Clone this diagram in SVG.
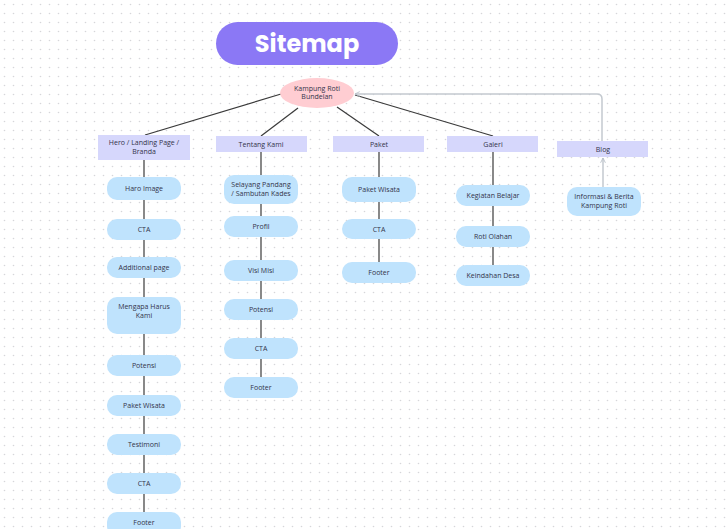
<svg xmlns="http://www.w3.org/2000/svg" width="727" height="529" viewBox="0 0 727 529">
<defs>
<pattern id="dots" x="0" y="0" width="9" height="9" patternUnits="userSpaceOnUse">
<circle cx="4.5" cy="4.5" r="0.8" fill="#d6d6d9"/>
</pattern>
<marker id="arr" viewBox="0 0 10 10" refX="9" refY="5" markerWidth="6" markerHeight="6" orient="auto-start-reverse" markerUnits="userSpaceOnUse">
<path d="M1,1 L9,5 L1,9" fill="none" stroke="#b8c0c8" stroke-width="1.5"/>
</marker>
<style>
.cat{fill:#d6d7fc}
.leaf{fill:#bfe3fd}
.t{font-family:"Open Sans","Liberation Sans",sans-serif;font-size:7px;fill:#33334a;text-anchor:middle}
.ln{stroke:#3a3a3a;stroke-width:1.2;fill:none}
.gl{stroke:#c3c9cf;stroke-width:1.5;fill:none}
</style>
</defs>
<rect width="727" height="529" fill="#ffffff"/>
<rect width="727" height="529" fill="url(#dots)"/>

<g id="connectors">
<line class="ln" x1="281" y1="94" x2="145" y2="135"/>
<line class="ln" x1="298" y1="108" x2="261" y2="136"/>
<line class="ln" x1="337" y1="107" x2="379" y2="136"/>
<line class="ln" x1="355" y1="95" x2="493" y2="136"/>
<line class="ln" x1="144" y1="160" x2="144" y2="529"/>
<line class="ln" x1="261" y1="152" x2="261" y2="390"/>
<line class="ln" x1="379" y1="152" x2="379" y2="272"/>
<line class="ln" x1="493" y1="152" x2="493" y2="276"/>
<path class="gl" d="M602,141 L602,99 Q602,94 597,94 L355,94" marker-end="url(#arr)"/>
<line class="gl" x1="603" y1="187" x2="603" y2="158" marker-end="url(#arr)"/>
</g>

<g id="title">
<rect x="216" y="22" width="182" height="43" rx="21.5" fill="#8b78f5"/>
<text x="307" y="52" font-family="Poppins,'Open Sans','Liberation Sans',sans-serif" font-size="24" font-weight="bold" fill="#ffffff" text-anchor="middle">Sitemap</text>
</g>

<g id="root">
<ellipse cx="317" cy="93" rx="37" ry="15" fill="#ffcdd2"/>
<text class="t" x="317" y="91">Kampung Roti</text>
<text class="t" x="317" y="99">Bundelan</text>
</g>

<g id="cat-hero"><rect class="cat" x="98" y="135" width="92" height="25"/><text class="t" x="144" y="145">Hero / Landing Page /</text><text class="t" x="144" y="154">Branda</text></g>
<g id="cat-tentang"><rect class="cat" x="216" y="136" width="91" height="16"/><text class="t" x="261" y="147">Tentang Kami</text></g>
<g id="cat-paket"><rect class="cat" x="333" y="136" width="91" height="16"/><text class="t" x="379" y="147">Paket</text></g>
<g id="cat-galeri"><rect class="cat" x="447" y="136" width="91" height="16"/><text class="t" x="493" y="147">Galeri</text></g>
<g id="cat-blog"><rect class="cat" x="557" y="141" width="91" height="16"/><text class="t" x="603" y="152">Blog</text></g>

<g id="hero-1"><rect class="leaf" x="107" y="177" width="74" height="23" rx="10"/><text class="t" x="144" y="191">Haro Image</text></g>
<g id="hero-2"><rect class="leaf" x="107" y="219" width="74" height="21" rx="10"/><text class="t" x="144" y="232">CTA</text></g>
<g id="hero-3"><rect class="leaf" x="107" y="257" width="74" height="21" rx="10"/><text class="t" x="144" y="270">Additional page</text></g>
<g id="hero-4"><rect class="leaf" x="107" y="297" width="74" height="37" rx="10"/><text class="t" x="144" y="309">Mengapa Harus</text><text class="t" x="144" y="318">Kami</text></g>
<g id="hero-5"><rect class="leaf" x="107" y="355" width="74" height="21" rx="10"/><text class="t" x="144" y="368">Potensi</text></g>
<g id="hero-6"><rect class="leaf" x="107" y="395" width="74" height="21" rx="10"/><text class="t" x="144" y="408">Paket Wisata</text></g>
<g id="hero-7"><rect class="leaf" x="107" y="434" width="74" height="21" rx="10"/><text class="t" x="144" y="447">Testimoni</text></g>
<g id="hero-8"><rect class="leaf" x="107" y="473" width="74" height="21" rx="10"/><text class="t" x="144" y="486">CTA</text></g>
<g id="hero-9"><rect class="leaf" x="107" y="512" width="74" height="24" rx="10"/><text class="t" x="144" y="525">Footer</text></g>

<g id="tentang-1"><rect class="leaf" x="224" y="175" width="74" height="29" rx="10"/><text class="t" x="261" y="187">Selayang Pandang</text><text class="t" x="261" y="196">/ Sambutan Kades</text></g>
<g id="tentang-2"><rect class="leaf" x="224" y="216" width="74" height="21" rx="10"/><text class="t" x="261" y="229">Profil</text></g>
<g id="tentang-3"><rect class="leaf" x="224" y="260" width="74" height="21" rx="10"/><text class="t" x="261" y="273">Visi Misi</text></g>
<g id="tentang-4"><rect class="leaf" x="224" y="299" width="74" height="21" rx="10"/><text class="t" x="261" y="312">Potensi</text></g>
<g id="tentang-5"><rect class="leaf" x="224" y="338" width="74" height="21" rx="10"/><text class="t" x="261" y="351">CTA</text></g>
<g id="tentang-6"><rect class="leaf" x="224" y="377" width="74" height="21" rx="10"/><text class="t" x="261" y="390">Footer</text></g>

<g id="paket-1"><rect class="leaf" x="342" y="177" width="74" height="25" rx="10"/><text class="t" x="379" y="192">Paket Wisata</text></g>
<g id="paket-2"><rect class="leaf" x="342" y="219" width="74" height="20" rx="10"/><text class="t" x="379" y="232">CTA</text></g>
<g id="paket-3"><rect class="leaf" x="342" y="262" width="74" height="21" rx="10"/><text class="t" x="379" y="275">Footer</text></g>

<g id="galeri-1"><rect class="leaf" x="456" y="185" width="74" height="21" rx="10"/><text class="t" x="493" y="198">Kegiatan Belajar</text></g>
<g id="galeri-2"><rect class="leaf" x="456" y="226" width="74" height="21" rx="10"/><text class="t" x="493" y="239">Roti Olahan</text></g>
<g id="galeri-3"><rect class="leaf" x="456" y="265" width="74" height="21" rx="10"/><text class="t" x="493" y="278">Keindahan Desa</text></g>

<g id="blog-1"><rect class="leaf" x="567" y="187" width="74" height="29" rx="10"/><text class="t" x="604" y="199">Informasi &amp; Berita</text><text class="t" x="604" y="208">Kampung Roti</text></g>
</svg>
